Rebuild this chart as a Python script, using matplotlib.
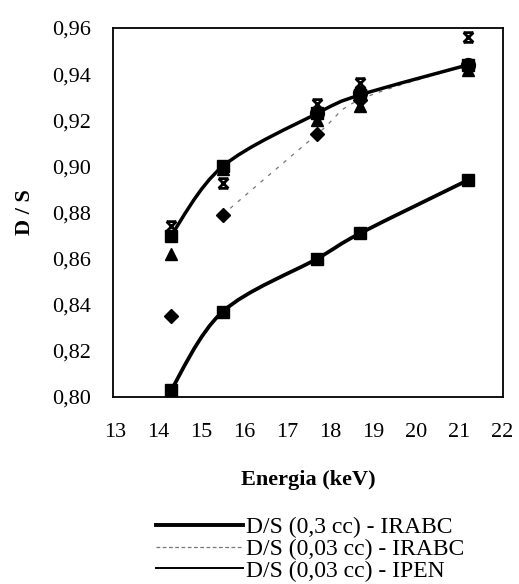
import numpy as np
import matplotlib.pyplot as plt
from matplotlib.path import Path
from matplotlib.patches import PathPatch
from matplotlib.lines import Line2D

# energies (keV) and D/S values
energia = [14.3, 15.5, 17.7, 18.7, 21.2]
ds_03_irabc = [0.803, 0.837, 0.860, 0.871, 0.894]     # squares, thick line
ds_003_ipen = [0.870, 0.900, 0.923, 0.931, 0.944]     # upper solid line
ds_003_irabc = [0.835, 0.879, 0.914, 0.929, 0.944]    # diamonds, dashed line
triangulos = [0.862, 0.899, 0.920, 0.926, 0.942]
cruzes = [0.874, 0.893, 0.927, 0.936, 0.956]
circulos = [0.923, 0.932, 0.944]                     # last three energies

xticks = list(range(13, 23))
yticks = [0.80, 0.82, 0.84, 0.86, 0.88, 0.90, 0.92, 0.94, 0.96]
ylabels = ["0,80", "0,82", "0,84", "0,86", "0,88", "0,90", "0,92", "0,94", "0,96"]

serif = "Liberation Serif"


def smooth_path(xs, ys):
    # Catmull-Rom -> cubic bezier, like a spreadsheet "smoothed line"
    p = np.column_stack([xs, ys])
    pts = np.vstack([p[0], p, p[-1]])
    verts = [tuple(p[0])]
    codes = [Path.MOVETO]
    for i in range(1, len(pts) - 2):
        c1 = pts[i] + (pts[i + 1] - pts[i - 1]) / 6.0
        c2 = pts[i + 1] - (pts[i + 2] - pts[i]) / 6.0
        verts += [tuple(c1), tuple(c2), tuple(pts[i + 1])]
        codes += [Path.CURVE4] * 3
    return Path(verts, codes)


# X marker with bars on top and bottom
xbar = Path([(-1, 1), (1, -1), (-1, -1), (1, 1), (-1, 1), (1, 1), (-1, -1), (1, -1)],
            [Path.MOVETO, Path.LINETO, Path.MOVETO, Path.LINETO,
             Path.MOVETO, Path.LINETO, Path.MOVETO, Path.LINETO])

fig = plt.figure(figsize=(5.19, 5.84), dpi=100)
ax = fig.add_axes([0.2177, 0.3202, 0.7513, 0.6318])

ax.add_patch(PathPatch(smooth_path(energia, ds_03_irabc), fill=False, lw=2.7, color="black",
                       capstyle="round", zorder=3))
ax.add_patch(PathPatch(smooth_path(energia, ds_003_ipen), fill=False, lw=2.5, color="black",
                       capstyle="round", zorder=3))
ax.add_patch(PathPatch(smooth_path(energia[1:], ds_003_irabc[1:]), fill=False, lw=0.9,
                       color="#777777", linestyle=(0, (3, 5)), zorder=2))

ax.plot(energia, ds_03_irabc, "s", color="black", ms=9, zorder=4)
ax.plot(energia, ds_003_ipen, "s", color="black", ms=9, zorder=4)
ax.plot(energia, ds_003_irabc, "D", color="black", ms=7, zorder=4)
ax.plot(energia, triangulos, "^", color="black", ms=8, zorder=4)
ax.plot(energia, cruzes, marker=xbar, ls="none", color="black", ms=7, mew=2.0,
        mfc="none", zorder=4)
ax.plot(energia[2:], circulos, "o", color="black", ms=10, zorder=4)

ax.set_xlim(12.95, 22.02)
ax.set_ylim(0.80, 0.959)
ax.set_xticks(xticks)
ax.set_xticklabels([str(t) for t in xticks], family=serif, fontsize=16)
ax.set_yticks(yticks)
ax.set_yticklabels(ylabels, family=serif, fontsize=16)
ax.tick_params(axis="both", length=0)
ax.tick_params(axis="y", pad=16)
ax.tick_params(axis="x", pad=19)
for s in ax.spines.values():
    s.set_linewidth(1.3)

ax.set_xlabel("Energia (keV)", family=serif, fontsize=16, fontweight="bold", labelpad=20)
ax.set_ylabel("D / S", family=serif, fontsize=16, fontweight="bold", labelpad=12)

handles = [Line2D([], [], color="black", lw=2.8),
           Line2D([], [], color="#777777", lw=0.9, ls=(0, (3, 2))),
           Line2D([], [], color="black", lw=1.4)]
labels = ["D/S (0,3 cc) - IRABC", "D/S (0,03 cc) - IRABC", "D/S (0,03 cc) - IPEN"]
fig.legend(handles, labels, loc="upper left", bbox_to_anchor=(0.278, 0.135),
           frameon=False, prop={"family": serif, "size": 17}, labelspacing=0.0,
           handlelength=3.7, handletextpad=0.1, borderpad=0.0)

fig.savefig("out.png", dpi=100)
